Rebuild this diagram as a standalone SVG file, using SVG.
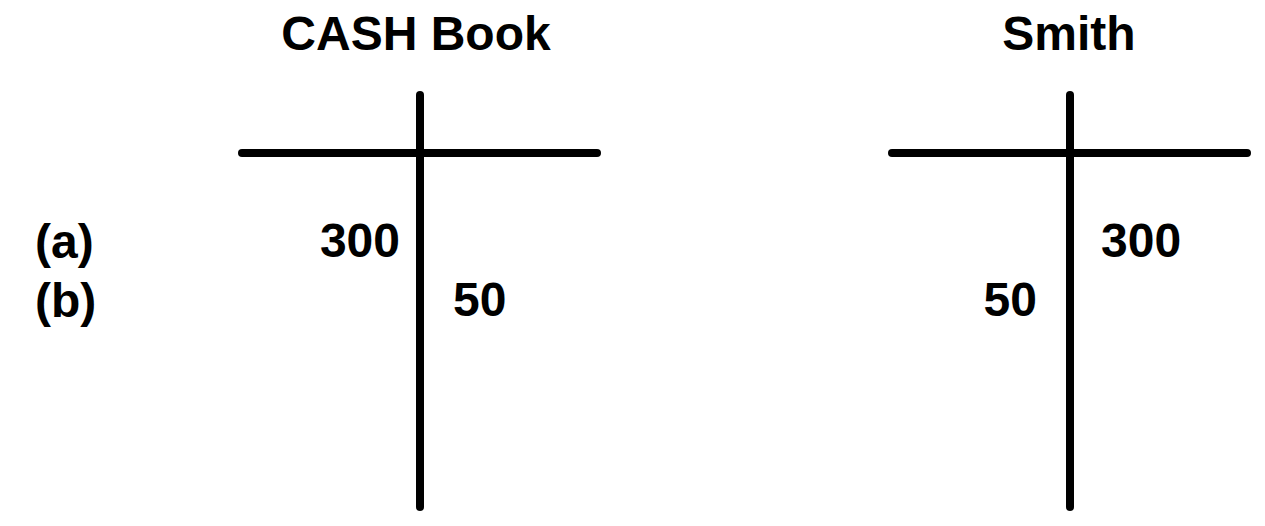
<svg xmlns="http://www.w3.org/2000/svg" width="1265" height="526" viewBox="0 0 1265 526">
<style>
.ln{stroke:#000;stroke-width:8;stroke-linecap:round;fill:none}
text{font-family:"Liberation Sans",Arial,sans-serif;font-weight:bold;font-size:48px;fill:#000}
</style>
<rect width="1265" height="526" fill="#fff"/>
<g id="labels">
<text x="35" y="258">(a)</text>
<text x="35" y="317">(b)</text>
</g>
<g id="cash-book">
<text x="416" y="50" text-anchor="middle">CASH Book</text>
<line class="ln" x1="242" y1="153" x2="597" y2="153"/>
<line class="ln" x1="420" y1="95" x2="420" y2="507"/>
<text x="400" y="257" text-anchor="end">300</text>
<text x="453" y="316">50</text>
</g>
<g id="smith">
<text x="1069" y="50" text-anchor="middle">Smith</text>
<line class="ln" x1="892" y1="153" x2="1247" y2="153"/>
<line class="ln" x1="1070" y1="95" x2="1070" y2="507"/>
<text x="1101" y="257">300</text>
<text x="1037" y="316" text-anchor="end">50</text>
</g>
</svg>
